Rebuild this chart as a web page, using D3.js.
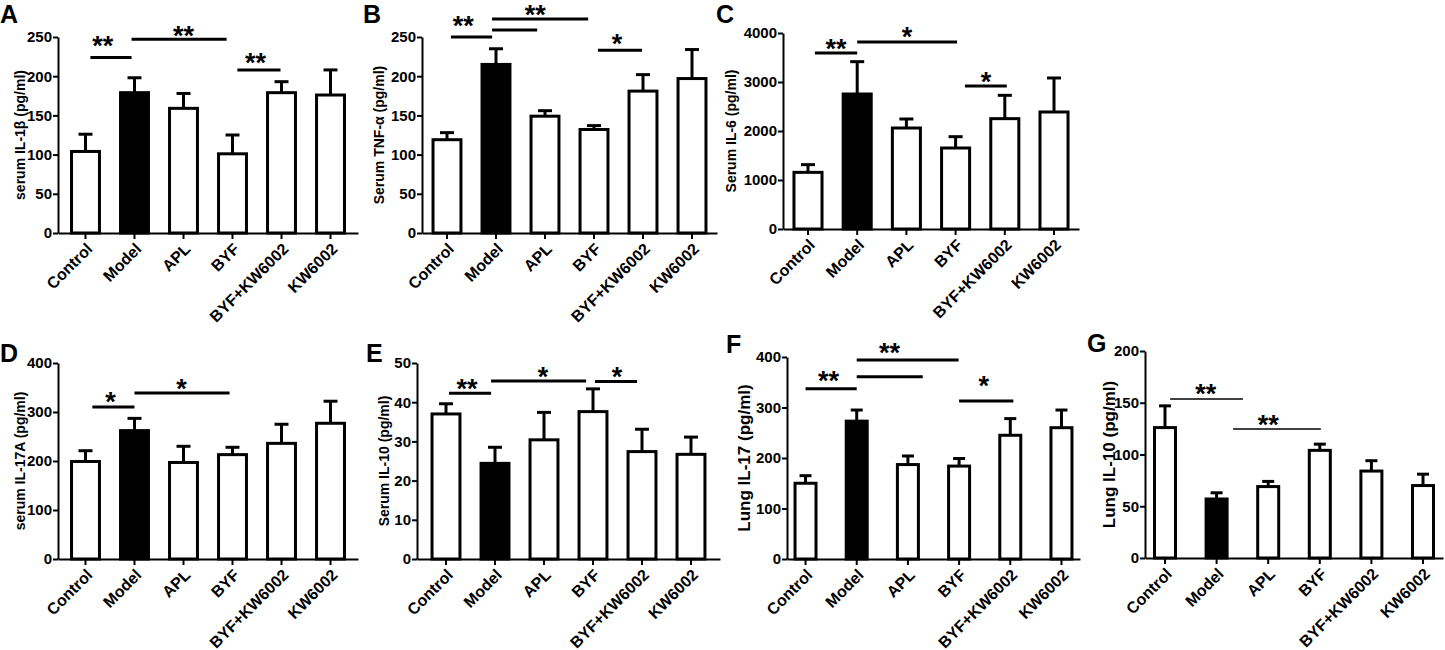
<!DOCTYPE html>
<html>
<head>
<meta charset="utf-8">
<script src="https://cdn.jsdelivr.net/npm/d3@7"></script>
<style>
  body { margin: 0; background: #fff; }
  text { font-family: "Liberation Sans", Arial, sans-serif; font-weight: bold; fill: #000; }
</style>
</head>
<body>
<svg width="1445" height="650"></svg>
<script>
const groups = ["Control", "Model", "APL", "BYF", "BYF+KW6002", "KW6002"];

// mean and upper error bar
const il1bMean = [104, 179, 159, 101, 179, 176];
const il1bErr  = [22, 19, 19, 24, 14, 32];
const tnfMean  = [119, 215, 149, 132, 181, 197];
const tnfErr   = [9, 20, 7, 5, 21, 37];
const il6Mean  = [1156, 2755, 2061, 1653, 2252, 2388];
const il6Err   = [157, 660, 184, 231, 476, 694];
const il17aMean = [199, 262, 197, 213, 236, 277];
const il17aErr  = [22, 25, 33, 15, 39, 45];
const il10Mean = [37.0, 24.4, 30.4, 37.6, 27.4, 26.7];
const il10Err  = [2.6, 4.1, 7.0, 5.8, 5.7, 4.4];
const lungIl17Mean = [150, 273, 187, 184, 245, 260];
const lungIl17Err  = [15, 22, 17, 15, 33, 35];
const lungIl10Mean = [126, 57, 69, 104, 84, 70];
const lungIl10Err  = [21, 6, 5, 6, 10, 11];

const ticksA = [0, 50, 100, 150, 200, 250];
const ticksC = [0, 1000, 2000, 3000, 4000];
const ticksD = [0, 100, 200, 300, 400];
const ticksE = [0, 10, 20, 30, 40, 50];
const ticksG = [0, 50, 100, 150, 200];

// significance bars: [from group idx, to group idx, bar value, label idx, label value, label]
const sigA = [[0.10, 0.94, 224, 0.35, 248, "**"], [0.94, 2.88, 247, 2.0, 261, "**"], [3.10, 3.98, 208, 3.47, 226, "**"]];
const sigB = [[0.08, 0.92, 250, 0.33, 273, "**"], [0.92, 2.88, 273, 1.80, 287, "**"], [0.92, 1.84, 259, 0, 0, ""], [3.08, 3.98, 233, 3.47, 250, "*"]];
const sigC = [[0.14, 1.0, 3592, 0.57, 3816, "**"], [1.0, 3.03, 3816, 2.01, 4061, "*"], [3.19, 4.04, 2918, 3.62, 3143, "*"]];
const sigD = [[0.14, 1.0, 310, 0.51, 335, "*"], [1.0, 2.94, 339, 1.96, 361, "*"]];
const sigE = [[0.06, 0.92, 42.3, 0.43, 45.2, "**"], [0.92, 2.86, 45.4, 1.98, 48.2, "*"], [3.04, 3.90, 45.3, 3.49, 48.2, "*"]];
const sigF = [[0.0, 1.0, 337, 0.45, 366, "**"], [1.0, 2.99, 394, 1.64, 422, "**"], [1.0, 2.29, 361, 0, 0, ""], [3.0, 4.06, 313, 3.48, 356, "*"]];
const sigG = [[0.10, 1.51, 153.6, 0.79, 165, "**"], [1.32, 3.02, 124.6, 2.0, 135, "**"]];

const panels = [
  { letter: "A", lx: 0, ly: 23, x0: 58, x1: 358, y0: 233, y1: 37, max: 250, ticks: ticksA, mean: il1bMean, err: il1bErr, sig: sigA, title: "serum IL-1β (pg/ml)", tx: 20, tfs: 14, pi: 0.43, po: 0.276 },
  { letter: "B", lx: 363, ly: 23, x0: 422, x1: 717, y0: 233, y1: 37, max: 250, ticks: ticksA, mean: tnfMean, err: tnfErr, sig: sigB, title: "Serum TNF-α (pg/ml)", tx: 379, tfs: 14, pi: 0.43, po: 0.225 },
  { letter: "C", lx: 716, ly: 23, x0: 783, x1: 1079, y0: 229, y1: 33, max: 4000, ticks: ticksC, mean: il6Mean, err: il6Err, sig: sigC, title: "Serum IL-6 (pg/ml)", tx: 731, tfs: 14, pi: 0.43, po: 0.223 },
  { letter: "D", lx: 0, ly: 362, x0: 58, x1: 358, y0: 559, y1: 363, max: 400, ticks: ticksD, mean: il17aMean, err: il17aErr, sig: sigD, title: "serum IL-17A (pg/ml)", tx: 20, tfs: 14, pi: 0.43, po: 0.276 },
  { letter: "E", lx: 366, ly: 362, x0: 417, x1: 720, y0: 559, y1: 363, max: 50, ticks: ticksE, mean: il10Mean, err: il10Err, sig: sigE, title: "Serum IL-10 (pg/ml)", tx: 384, tfs: 14, pi: 0.43, po: 0.307 },
  { letter: "F", lx: 726, ly: 353, x0: 787, x1: 1080, y0: 559, y1: 357, max: 400, ticks: ticksD, mean: lungIl17Mean, err: lungIl17Err, sig: sigF, title: "Lung IL-17 (pg/ml)", tx: 744, tfs: 17, pi: 0.59, po: 0.157, thin: false },
  { letter: "G", lx: 1087, ly: 352, x0: 1145, x1: 1443, y0: 558, y1: 351, max: 200, ticks: ticksG, mean: lungIl10Mean, err: lungIl10Err, sig: sigG, title: "Lung IL-10 (pg/ml)", tx: 1109, tfs: 17, pi: 0.593, po: 0.184, thin: true }
];

const svg = d3.select("svg");

function drawPanel(p) {
  const g = svg.append("g");
  const x = d3.scaleBand().domain(groups).range([p.x0, p.x1]).paddingInner(p.pi).paddingOuter(p.po);
  const y = d3.scaleLinear().domain([0, p.max]).range([p.y0, p.y1]);
  const bw = x.bandwidth();
  const xi = i => x(groups[0]) + bw / 2 + i * x.step();
  const capW = Math.max(12, bw * 0.5);

  // bars
  g.selectAll("rect.bar")
    .data(groups)
    .join("rect")
    .attr("x", d => x(d))
    .attr("width", bw)
    .attr("y", (d, i) => y(p.mean[i]))
    .attr("height", (d, i) => p.y0 - y(p.mean[i]))
    .attr("fill", d => d === "Model" ? "#000" : "#fff")
    .attr("stroke", "#000")
    .attr("stroke-width", 3);

  // error bars (upper only)
  groups.forEach((d, i) => {
    const cx = x(d) + bw / 2;
    g.append("line")
      .attr("x1", cx).attr("x2", cx)
      .attr("y1", y(p.mean[i])).attr("y2", y(p.mean[i] + p.err[i]))
      .attr("stroke", "#000").attr("stroke-width", 3);
    g.append("line")
      .attr("x1", cx - capW / 2).attr("x2", cx + capW / 2)
      .attr("y1", y(p.mean[i] + p.err[i])).attr("y2", y(p.mean[i] + p.err[i]))
      .attr("stroke", "#000").attr("stroke-width", 3);
  });

  // axes
  const ya = g.append("g")
    .attr("transform", `translate(${p.x0},0)`)
    .call(d3.axisLeft(y).tickValues(p.ticks).tickSize(5).tickSizeOuter(0).tickPadding(1).tickFormat(d3.format("d")));
  ya.selectAll("text").style("font-size", "15px");

  const xa = g.append("g")
    .attr("transform", `translate(0,${p.y0})`)
    .call(d3.axisBottom(x).tickSize(6).tickSizeOuter(0));
  xa.selectAll("text")
    .style("font-size", "16px")
    .attr("text-anchor", "end")
    .attr("x", 0).attr("y", 0).attr("dy", "0.35em")
    .attr("transform", "translate(4,13) rotate(-45)");

  [ya, xa].forEach(a => {
    a.select(".domain").attr("stroke-width", 2);
    a.selectAll(".tick line").attr("stroke-width", 2);
  });

  // significance
  p.sig.forEach(s => {
    g.append("line")
      .attr("x1", xi(s[0])).attr("x2", xi(s[1]))
      .attr("y1", y(s[2])).attr("y2", y(s[2]))
      .attr("stroke", "#000")
      .attr("stroke-width", p.thin ? 1.5 : 3);
    if (s[5]) {
      g.append("text")
        .attr("x", xi(s[3]))
        .attr("y", y(s[4]))
        .attr("dy", "0.6em")
        .attr("text-anchor", "middle")
        .style("font-size", "27px")
        .text(s[5]);
    }
  });

  // y title
  g.append("text")
    .attr("transform", `translate(${p.tx},${(p.y0 + p.y1) / 2}) rotate(-90)`)
    .attr("text-anchor", "middle")
    .attr("dy", "0.35em")
    .style("font-size", p.tfs + "px")
    .text(p.title);

  // panel letter
  g.append("text")
    .attr("x", p.lx).attr("y", p.ly)
    .style("font-size", "25px")
    .text(p.letter);
}

panels.forEach(drawPanel);
</script>
</body>
</html>
